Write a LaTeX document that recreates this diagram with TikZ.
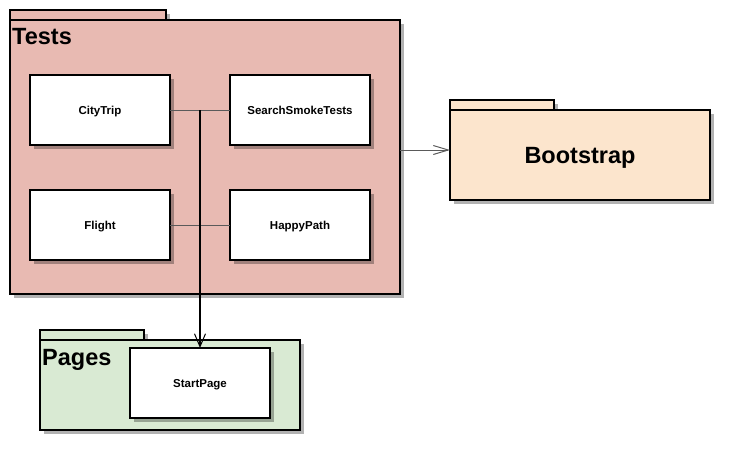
\documentclass[tikz,border=0pt]{standalone}
\usepackage{fontspec}
\setmainfont{Liberation Sans}
\usetikzlibrary{arrows.meta,positioning,shadows}
\definecolor{pkRed}   {RGB}{232,186,178}
\definecolor{pkOrange}{RGB}{252,229,205}
\definecolor{pkGreen} {RGB}{217,234,211}
\definecolor{lnGrey}  {RGB}{ 90, 90, 90}
\begin{document}
\begin{tikzpicture}[x=1pt,y=-1pt,
  pkg/.style={draw,line width=1.5pt,anchor=north west,inner sep=0pt,outer sep=0pt,
              drop shadow={shadow xshift=4pt,shadow yshift=-4pt,fill=black,opacity=0.3}},
  tab/.style={pkg,minimum height=10pt},
  cls/.style={pkg,fill=white,minimum width=140pt,minimum height=70pt,text depth=0pt,
              font=\fontsize{11.5}{14}\selectfont\bfseries},
  big/.style={font=\fontsize{23.5}{28}\selectfont\bfseries},
  title/.style={big,inner sep=0pt,anchor=base west},
  conn/.style={lnGrey,line width=1pt},
  dep/.style={line width=1.5pt,-{Straight Barb[length=13pt,width=11pt,line width=1pt]}}
]
\useasboundingbox (0,0) rectangle (732,450);
% Tests package
\node[tab,fill=pkRed,minimum width=156pt] (testsTab) at (10,10) {};
\node[pkg,fill=pkRed,minimum width=390pt,minimum height=274pt] (testsBody) at (10,20) {};
\node[title] (testsLabel) at (12,44) {Tests};
\node[cls] (cityTrip)    at (30,75)  {CityTrip};
\node[cls] (searchSmoke) at (230,75) {SearchSmokeTests};
\node[cls] (flight)      at (30,190) {Flight};
\node[cls] (happyPath)   at (230,190) {HappyPath};
% Bootstrap package
\node[tab,fill=pkOrange,minimum width=104pt] (bootTab) at (450,100) {};
\node[pkg,fill=pkOrange,minimum width=260pt,minimum height=90pt,big,
      text depth=0pt] (bootstrap) at (450,110) {Bootstrap};
% Pages package
\node[tab,fill=pkGreen,minimum width=104pt] (pagesTab) at (40,330) {};
\node[pkg,fill=pkGreen,minimum width=260pt,minimum height=90pt] (pagesBody) at (40,340) {};
\node[title] (pagesLabel) at (42,365) {Pages};
\node[cls] (startPage) at (130,348) {StartPage};
% dependencies
\coordinate (fork) at (200,110);
\draw[conn] (cityTrip) -- (searchSmoke);
\draw[conn] (flight) -- (happyPath);
\draw[dep] (fork) -- (startPage.north);
\draw[dep,lnGrey,line width=1pt,-{Straight Barb[length=15pt,width=9pt,line width=1pt]}]
  ([yshift=5pt]bootstrap.west -| testsBody.east) -- ([yshift=5pt]bootstrap.west);
\end{tikzpicture}
\end{document}
